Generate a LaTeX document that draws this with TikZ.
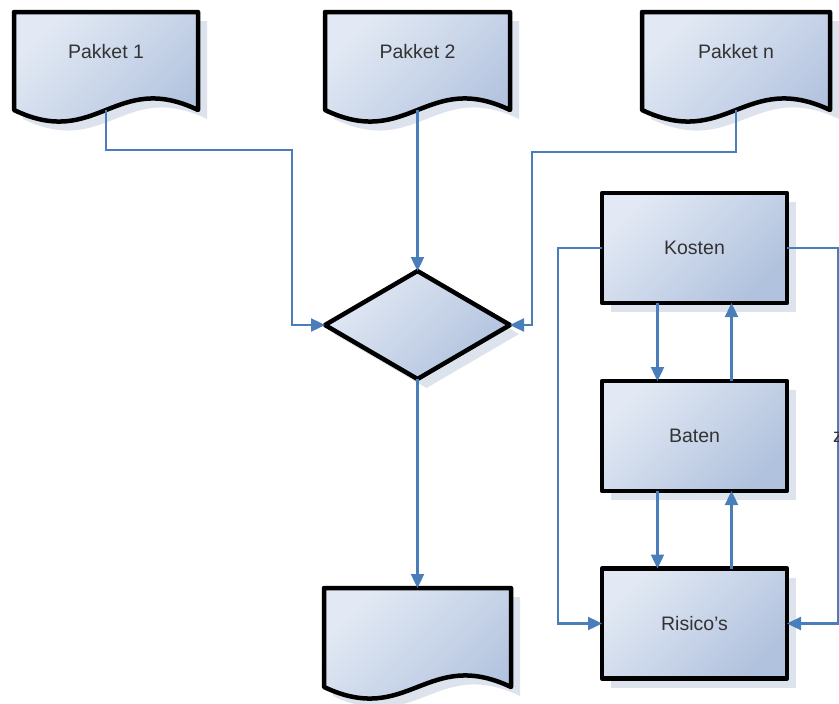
\documentclass[tikz,border=0pt]{standalone}
\usepackage{fontspec}
\setmainfont{Liberation Sans}
\usetikzlibrary{shapes.geometric,arrows.meta,shadows}
\definecolor{linkblue}{HTML}{4A7EBB}
\definecolor{fillhi}{HTML}{E2E9F4}
\definecolor{filllo}{HTML}{B1C2DE}
\definecolor{shadowc}{HTML}{DDE3EC}
\definecolor{labelc}{HTML}{333333}
\newcommand\labelfont{\fontsize{19.5}{22}\selectfont}
\tikzset{
  shapefill/.style={top color=fillhi, bottom color=filllo, shading angle=45},
  outline/.style={draw=black, line width=4.5pt, line join=round},
  softshadow/.style={drop shadow={shadow xshift=9pt, shadow yshift=-9pt, fill=shadowc, opacity=1}},
  flowbox/.style={rectangle, outline, shapefill, softshadow, minimum width=185pt,
    minimum height=110pt, inner sep=0pt, outer sep=0pt, text=labelc, font=\labelfont},
  decision/.style={diamond, outline, shapefill, softshadow, minimum width=185pt,
    minimum height=108pt, inner sep=0pt, outer sep=0pt},
  doclabel/.style={text=labelc, font=\labelfont, inner sep=0pt},
  conn/.style={draw=linkblue, line width=2.4pt, -{Triangle[length=14pt,width=13pt]}},
}
% document symbol: name, left, top, right, bottom of the straight sides
\newcommand\docshape[5]{%
  \path[outline, shapefill, softshadow] (#2,#3) -- (#4,#3) -- (#4,#5)
    .. controls ({#2+0.55*(#4-#2)},{#5-40}) and ({#2+0.45*(#4-#2)},{#5+40}) .. (#2,#5) -- cycle;
  \coordinate (#1-top) at ({(#2+#4)/2},#3);
  \coordinate (#1-wave) at ({(#2+#4)/2},#5);
}
\begin{document}
\begin{tikzpicture}[x=1pt,y=-1pt]
  \useasboundingbox (0,0) rectangle (839,704);

  % bends of the connectors from the packages into the decision
  \coordinate (j1) at (292,150);
  \coordinate (j2) at (532,152);

  % documents
  \docshape{p1}{14}{12}{198}{110}
  \docshape{p2}{325}{12}{510}{110}
  \docshape{pn}{642}{12}{830}{110}
  \docshape{res}{324}{588}{511}{687}

  \node[doclabel] (p1) at (106,52) {Pakket 1};
  \node[doclabel] (p2) at (417.5,52) {Pakket 2};
  \node[doclabel] (pn) at (736,52) {Pakket n};

  % decision
  \node[decision] (dec) at (417.5,325) {};

  \draw[conn] (p1-wave) |- (j1) |- (dec.west);
  \draw[conn] (p2-wave) -- (dec.north);
  \draw[conn] (pn-wave) |- (j2) |- (dec.east);
  \draw[conn] (dec.south) -- (dec.south |- res-top);

  % analysis boxes
  \node[flowbox] (kosten) at (694.5,248) {Kosten};
  \node[flowbox] (baten) at (694.5,436) {Baten};
  \node[flowbox] (risico) at (694.5,623.5) {Risico's};

  \draw[conn] ([xshift=-37pt]kosten.south) -- ([xshift=-37pt]baten.north);
  \draw[conn] ([xshift=37pt]baten.north) -- ([xshift=37pt]kosten.south);
  \draw[conn] ([xshift=-37pt]baten.south) -- ([xshift=-37pt]risico.north);
  \draw[conn] ([xshift=37pt]risico.north) -- ([xshift=37pt]baten.south);

  \coordinate (jl) at (558,435);
  \coordinate (jr) at (838,435);
  \draw[conn] (kosten.west) -| (jl) |- (risico.west);
  \draw[conn] (kosten.east) -| (jr) |- (risico.east);

  \node[doclabel, anchor=west] (zlabel) at (833,437) {z};
\end{tikzpicture}
\end{document}
